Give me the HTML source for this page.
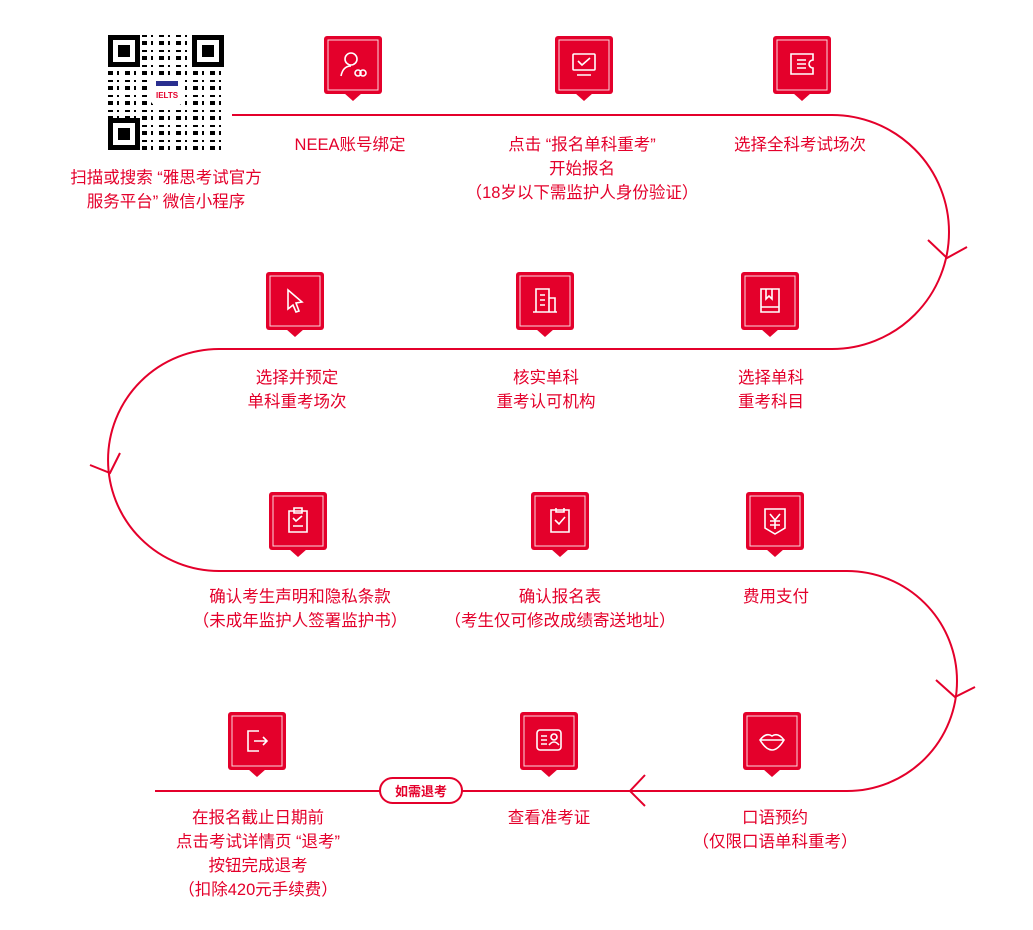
<!DOCTYPE html>
<html><head><meta charset="utf-8"><style>
html,body{margin:0;padding:0;background:#fff;}
body{width:1033px;height:930px;position:relative;overflow:hidden;font-family:"Liberation Sans","Noto Sans CJK SC",sans-serif;color:#e4002b;}
.t{position:absolute;font-size:16.5px;line-height:24px;text-align:center;white-space:nowrap;transform:translateX(-50%);}
.qr{position:absolute;left:108px;top:35px;width:116px;height:115px;background:
repeating-linear-gradient(90deg,#000 0 5px,#fff 5px 9px,#000 9px 11px,#fff 11px 17px),
#fff;}
.qr2{position:absolute;left:108px;top:35px;width:116px;height:115px;background:repeating-linear-gradient(0deg,transparent 0 4px,#fff 4px 8px,transparent 8px 10px,#fff 10px 15px);}
.fp{position:absolute;width:22px;height:22px;border:5px solid #000;background:#fff;}
.fp:after{content:"";position:absolute;left:5px;top:5px;width:12px;height:12px;background:#000;}
</style></head><body>
<div class="qr"></div><div class="qr2"></div>
<div class="fp" style="left:108px;top:35px"></div>
<div class="fp" style="left:192px;top:35px"></div>
<div class="fp" style="left:108px;top:118px"></div>
<div style="position:absolute;left:150px;top:76px;width:34px;height:30px;background:#fff;border-radius:8px;"></div>
<div style="position:absolute;left:156px;top:81px;width:22px;height:5px;background:#2a2f8f"></div>
<div style="position:absolute;left:156px;top:91px;font:bold 8px 'Liberation Sans';color:#e4002b">IELTS</div>

<svg width="1033" height="930" style="position:absolute;left:0;top:0" xmlns="http://www.w3.org/2000/svg">
<g fill="none" stroke="#e4002b" stroke-width="2">
<path d="M232 115 H832 A117 117 0 0 1 832 349 H219 A109 109 0 0 0 219 571 H847 A110 110 0 0 1 847 791 H155"/>
<path d="M928 240 L947 258 L967 247"/>
<path d="M90 465 L110 473 L120 453"/>
<path d="M936 680 L955 697 L975 687"/>
<path d="M645 775 L630 791 L645 806"/>
</g>
<rect x="380" y="778" width="82" height="25" rx="12.5" fill="#fff" stroke="#e4002b" stroke-width="2"/>
<text x="421" y="796" text-anchor="middle" font-size="13" font-weight="bold" fill="#e4002b" font-family="Liberation Sans, Noto Sans CJK SC, sans-serif">如需退考</text>
<defs>
<g id="box" stroke="none"><rect x="-29" y="0" width="58" height="58" rx="3" fill="#e4002b"/><path d="M-9 57 L0 65 L9 57Z" fill="#e4002b"/><rect x="-25" y="4" width="50" height="50" fill="none" stroke="#fff" stroke-opacity=".85" stroke-width="1"/></g>
</defs>
<g transform="translate(353,36)"><use href="#box"/></g>
<g transform="translate(584,36)"><use href="#box"/></g>
<g transform="translate(802,36)"><use href="#box"/></g>
<g transform="translate(295,272)"><use href="#box"/></g>
<g transform="translate(545,272)"><use href="#box"/></g>
<g transform="translate(770,272)"><use href="#box"/></g>
<g transform="translate(298,492)"><use href="#box"/></g>
<g transform="translate(560,492)"><use href="#box"/></g>
<g transform="translate(775,492)"><use href="#box"/></g>
<g transform="translate(257,712)"><use href="#box"/></g>
<g transform="translate(549,712)"><use href="#box"/></g>
<g transform="translate(772,712)"><use href="#box"/></g>
<g fill="none" stroke="#fff" stroke-width="1.6">
<g transform="translate(353,36)"><circle cx="-2" cy="23" r="6"/><path d="M-12 40 Q-10 30 -2 30"/><circle cx="5" cy="37" r="3"/><circle cx="10" cy="37" r="3"/></g>
<g transform="translate(584,36)"><rect x="-11" y="18" width="22" height="16" rx="1"/><path d="M-6 25 L-2 29 L6 22 M-7 39 H7"/></g>
<g transform="translate(802,36)"><path d="M-11 18 H11 V24 A4 4 0 0 0 11 32 V38 H-11Z M-5 24 H4 M-5 28 H4 M-5 32 H4"/></g>
<g transform="translate(295,272)"><path d="M-7 18 L7 30 L1 31 L4 39 L1 40 L-2 33 L-7 37Z"/></g>
<g transform="translate(545,272)"><path d="M-9 40 V17 H4 V40 M4 26 H10 V40 M-12 40 H12 M-5 23 H0 M-5 28 H0 M-5 33 H0"/></g>
<g transform="translate(770,272)"><path d="M-9 17 H9 V40 H-9Z M-9 35 H9 M-4 17 V27 L-1 24 L2 27 V17"/></g>
<g transform="translate(298,492)"><path d="M-9 19 H9 V40 H-9Z M-4 16 H4 V21 H-4Z M-5 26 L-2 29 L4 24 M-5 34 H5"/></g>
<g transform="translate(560,492)"><path d="M-9 18 H9 V40 H-9Z M-4 16 V20 H4 V16 M-5 28 L-1 32 L5 25"/></g>
<g transform="translate(775,492)"><path d="M-10 17 H10 V36 L0 42 L-10 36Z M-5 22 L0 28 L5 22 M0 28 V37 M-5 29 H5 M-5 33 H5"/></g>
<g transform="translate(257,712)"><path d="M2 19 H-9 V39 H2 M-3 29 H10 M6 25 L10 29 L6 33"/></g>
<g transform="translate(549,712)"><rect x="-12" y="18" width="24" height="20" rx="3"/><path d="M-8 24 H-2 M-8 28 H-2 M-8 32 H-2"/><circle cx="5" cy="25" r="3"/><path d="M0 33 Q5 27 10 33"/></g>
<g transform="translate(772,712)"><path d="M-12 28 Q-6 20 0 24 Q6 20 12 28 Q6 38 0 38 Q-6 38 -12 28Z M-12 28 H12"/></g>
</g>
</svg>

<div class="t" style="left:166px;top:166px">扫描或搜索 “雅思考试官方<br>服务平台” 微信小程序</div>
<div class="t" style="left:350px;top:133px">NEEA账号绑定</div>
<div class="t" style="left:582px;top:133px">点击 “报名单科重考”<br>开始报名<br>（18岁以下需监护人身份验证）</div>
<div class="t" style="left:800px;top:133px">选择全科考试场次</div>
<div class="t" style="left:297px;top:366px">选择并预定<br>单科重考场次</div>
<div class="t" style="left:546px;top:366px">核实单科<br>重考认可机构</div>
<div class="t" style="left:771px;top:366px">选择单科<br>重考科目</div>
<div class="t" style="left:300px;top:585px">确认考生声明和隐私条款<br>（未成年监护人签署监护书）</div>
<div class="t" style="left:560px;top:585px">确认报名表<br>（考生仅可修改成绩寄送地址）</div>
<div class="t" style="left:776px;top:585px">费用支付</div>
<div class="t" style="left:258px;top:806px">在报名截止日期前<br>点击考试详情页 “退考”<br>按钮完成退考<br>（扣除420元手续费）</div>
<div class="t" style="left:549px;top:806px">查看准考证</div>
<div class="t" style="left:775px;top:806px">口语预约<br>（仅限口语单科重考）</div>
</body></html>
